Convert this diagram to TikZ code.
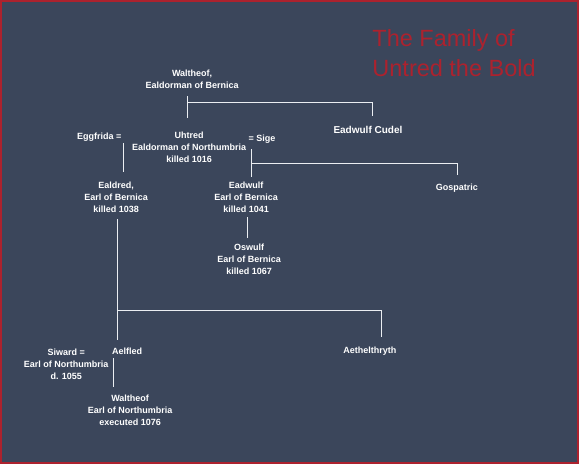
\documentclass[tikz,border=0pt]{standalone}
\usepackage{fontspec}
\setmainfont{Liberation Sans}
\definecolor{bgc}{RGB}{59,70,91}
\definecolor{redc}{RGB}{172,34,46}
\definecolor{linec}{RGB}{235,238,242}
\begin{document}
\begin{tikzpicture}[x=1pt,y=-1pt,
  person/.style={text=white,font=\bfseries\fontsize{9}{12}\selectfont,align=center,inner sep=1pt},
  conn/.style={draw=linec,line width=1pt}]
\fill[bgc] (0,0) rectangle (579,464);
\draw[redc,line width=2.5pt] (1,1) rectangle (578,463);
\useasboundingbox (0,0) rectangle (579,464);
% title
\node[text=redc,font=\fontsize{23.5}{30}\selectfont,align=left,anchor=west] (title) at (369,53) {The Family of\\Untred the Bold};
% people
\node[person] (walt) at (192,79) {Waltheof,\\Ealdorman of Bernica};
\node[person,font=\bfseries\fontsize{10}{12}\selectfont] (cudel) at (368,130) {Eadwulf Cudel};
\node[person] (egg) at (99,137) {Eggfrida =};
\node[person] (uht) at (189,147) {Uhtred\\Ealdorman of Northumbria\\killed 1016};
\node[person] (sige) at (262,139) {= Sige};
\node[person] (gos) at (457,188) {Gospatric};
\node[person] (eald) at (116,197) {Ealdred,\\Earl of Bernica\\killed 1038};
\node[person] (eadw) at (246,197) {Eadwulf\\Earl of Bernica\\killed 1041};
\node[person] (osw) at (249,259) {Oswulf\\Earl of Bernica\\killed 1067};
\node[person] (siw) at (66,364) {Siward =\\Earl of Northumbria\\d. 1055};
\node[person] (aelf) at (127,351) {Aelfled};
\node[person] (aeth) at (370,351) {Aethelthryth};
\node[person] (walt2) at (130,410) {Waltheof\\Earl of Northumbria\\executed 1076};
% junction coordinates
\coordinate (a1) at (187,96);  \coordinate (a2) at (187,118);
\coordinate (a3) at (187,102); \coordinate (a4) at (373,102); \coordinate (a5) at (373,116);
\coordinate (b1) at (123,143); \coordinate (b2) at (123,172);
\coordinate (c1) at (251,149); \coordinate (c2) at (251,177);
\coordinate (c3) at (251,163); \coordinate (c4) at (458,163); \coordinate (c5) at (458,175);
\coordinate (d1) at (247,217); \coordinate (d2) at (247,238);
\coordinate (e1) at (117,219); \coordinate (e2) at (117,340);
\coordinate (e3) at (117,311); \coordinate (e4) at (382,311); \coordinate (e5) at (382,337);
\coordinate (f1) at (113,358); \coordinate (f2) at (113,387);
% connectors
\draw[conn] (a1) -- (a2);
\draw[conn] (a3) -- (a4) -- (a5);
\draw[conn] (b1) -- (b2);
\draw[conn] (c1) -- (c2);
\draw[conn] (c3) -- (c4) -- (c5);
\draw[conn] (d1) -- (d2);
\draw[conn] (e1) -- (e2);
\draw[conn] (e3) -- (e4) -- (e5);
\draw[conn] (f1) -- (f2);
\end{tikzpicture}
\end{document}
